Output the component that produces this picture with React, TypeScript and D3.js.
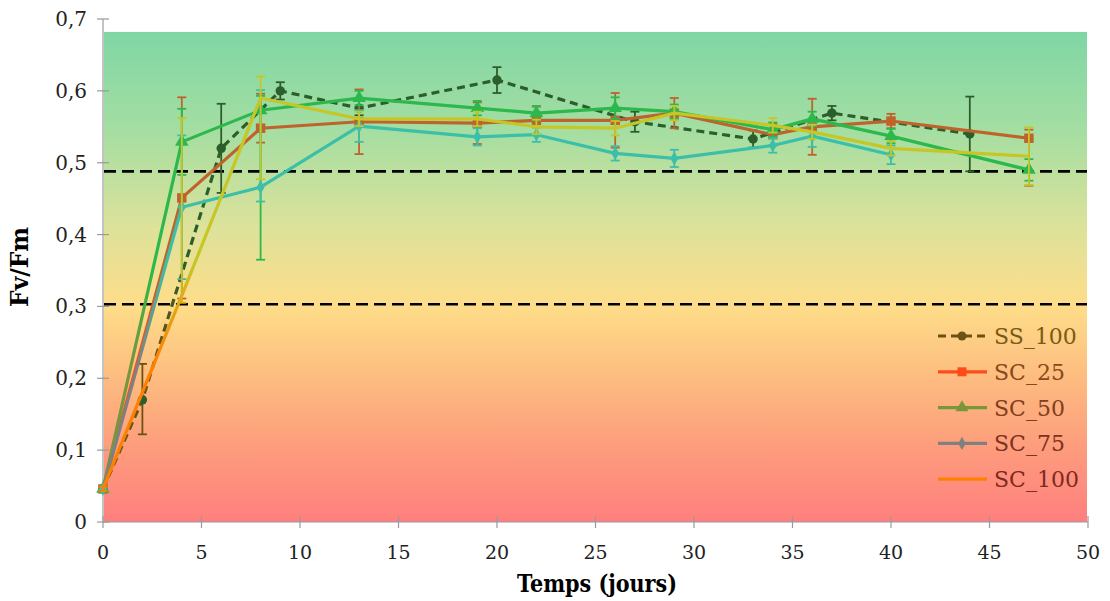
import React from "react";
import * as d3 from "d3";

// ---- data ----
const ssDays = [0, 2, 6, 9, 13, 20, 27, 33, 37, 44];
const ss100 = [0.046, 0.17, 0.52, 0.6, 0.576, 0.615, 0.557, 0.533, 0.569, 0.54];
const ss100Err: [number, number][] = [[0.003, 0.003], [0.048, 0.05], [0.062, 0.062], [0.012, 0.012], [0.01, 0.01], [0.018, 0.018], [0.014, 0.014], [0.012, 0.012], [0.01, 0.01], [0.052, 0.052]];

const scDays = [0, 4, 8, 13, 19, 22, 26, 29, 34, 36, 40, 47];
const sc25 = [0.046, 0.451, 0.548, 0.557, 0.555, 0.559, 0.559, 0.569, 0.539, 0.55, 0.558, 0.534];
const sc25Err: [number, number][] = [[0.003, 0.003], [0.14, 0.14], [0.02, 0.048], [0.045, 0.045], [0.029, 0.029], [0.019, 0.019], [0.038, 0.038], [0.021, 0.021], [0.015, 0.015], [0.039, 0.039], [0.01, 0.01], [0.066, 0.012]];
const sc50 = [0.046, 0.529, 0.573, 0.59, 0.576, 0.569, 0.576, 0.571, 0.546, 0.561, 0.537, 0.49];
const sc50Err: [number, number][] = [[0.003, 0.003], [0.046, 0.046], [0.208, 0.02], [0.01, 0.01], [0.01, 0.01], [0.01, 0.01], [0.015, 0.015], [0.01, 0.01], [0.01, 0.01], [0.01, 0.01], [0.01, 0.01], [0.015, 0.015]];
const sc75Days = [0, 4, 8, 13, 19, 22, 26, 29, 34, 36, 40];
const sc75 = [0.046, 0.438, 0.466, 0.551, 0.536, 0.539, 0.513, 0.506, 0.524, 0.537, 0.511];
const sc75Err: [number, number][] = [[0.003, 0.003], [0.1, 0.1], [0.02, 0.135], [0.022, 0.022], [0.012, 0.012], [0.01, 0.01], [0.01, 0.01], [0.012, 0.012], [0.01, 0.01], [0.015, 0.015], [0.013, 0.013]];
const sc100 = [0.046, 0.315, 0.59, 0.561, 0.561, 0.55, 0.548, 0.569, 0.552, 0.543, 0.52, 0.509];
const sc100Err: [number, number][] = [[0.003, 0.003], [0.01, 0.247], [0.113, 0.03], [0.01, 0.01], [0.01, 0.01], [0.01, 0.01], [0.01, 0.01], [0.01, 0.01], [0.01, 0.01], [0.01, 0.01], [0.01, 0.01], [0.04, 0.04]];

const seriesNames = ["SS_100", "SC_25", "SC_50", "SC_75", "SC_100"];
const xTicks = [0, 5, 10, 15, 20, 25, 30, 35, 40, 45, 50];
const yTicks = [0, 0.1, 0.2, 0.3, 0.4, 0.5, 0.6, 0.7];
const thresholds = [0.488, 0.303];

type S = { name: string; days: number[]; vals: number[]; err: [number, number][]; color: string; legendColor: string; textColor: string; marker: any; dashed: boolean };

const series: S[] = [
  { name: seriesNames[0], days: ssDays, vals: ss100, err: ss100Err, color: "#2b5e2b", legendColor: "#6b5214", textColor: "#7a5a14", marker: d3.symbolCircle, dashed: true },
  { name: seriesNames[1], days: scDays, vals: sc25, err: sc25Err, color: "#c0622c", legendColor: "#ff4a1a", textColor: "#8a4818", marker: d3.symbolSquare, dashed: false },
  { name: seriesNames[2], days: scDays, vals: sc50, err: sc50Err, color: "#2cb84c", legendColor: "#78963a", textColor: "#823e1a", marker: d3.symbolTriangle, dashed: false },
  { name: seriesNames[3], days: sc75Days, vals: sc75, err: sc75Err, color: "#3cbfa8", legendColor: "#808080", textColor: "#7e3220", marker: d3.symbolDiamond, dashed: false },
  { name: seriesNames[4], days: scDays, vals: sc100, err: sc100Err, color: "#c6c626", legendColor: "#ff7f00", textColor: "#7e2a20", marker: null, dashed: false },
];

const markerSize = [70, 90, 80, 55, 0];

export default function App() {
  const x = d3.scaleLinear().domain([0, 50]).range([103, 1088]);
  const y = d3.scaleLinear().domain([0, 0.7]).range([522, 19]);
  const bgTop = 0.682;
  const serif = "'DejaVu Serif', serif";

  return (
    <svg width={1110} height={601} style={{ position: "absolute", left: 0, top: 0, background: "#fff" }}>
      <defs>
        <linearGradient id="bg" x1="0" y1="0" x2="0" y2="1">
          <stop offset="0" stopColor="#7fd6a5" />
          <stop offset="0.2" stopColor="#a4dea2" />
          <stop offset="0.4" stopColor="#dde29a" />
          <stop offset="0.56" stopColor="#fedd89" />
          <stop offset="0.7" stopColor="#fdbd80" />
          <stop offset="0.85" stopColor="#fd9c7c" />
          <stop offset="1" stopColor="#ff7f7f" />
        </linearGradient>
        {series.map((s, i) => (
          <linearGradient key={i} id={`sg${i}`} gradientUnits="userSpaceOnUse" x1={0} x2={0} y1={y(0)} y2={y(0.7)}>
            <stop offset={0.22 / 0.7} stopColor={s.legendColor} />
            <stop offset={0.36 / 0.7} stopColor={s.color} />
          </linearGradient>
        ))}
      </defs>
      <rect x={x(0) + 1} y={y(bgTop)} width={x(50) - x(0) - 2} height={y(0) - y(bgTop)} fill="url(#bg)" />

      {/* axes */}
      <line x1={x(0)} x2={x(0)} y1={y(0.7)} y2={y(0)} stroke="#9a9a9a" strokeWidth={1.2} />
      <line x1={x(0)} x2={x(50)} y1={y(0)} y2={y(0)} stroke="#9a9a9a" strokeWidth={1.2} />
      {yTicks.map((t) => (
        <g key={t}>
          <line x1={x(0) - 6} x2={x(0) + 6} y1={y(t)} y2={y(t)} stroke="#9a9a9a" strokeWidth={1.2} />
          <text x={87} y={y(t) + 7} textAnchor="end" fontFamily={serif} fontSize={20} fill="#222">
            {String(Math.round(t * 10) / 10).replace(".", ",")}
          </text>
        </g>
      ))}
      {xTicks.map((t) => (
        <g key={t}>
          <line x1={x(t)} x2={x(t)} y1={y(0) - 6} y2={y(0) + 6} stroke="#9a9a9a" strokeWidth={1.2} />
          <text x={x(t)} y={559} textAnchor="middle" fontFamily={serif} fontSize={19} fill="#222">
            {t}
          </text>
        </g>
      ))}

      {/* thresholds */}
      {thresholds.map((t) => (
        <line key={t} x1={x(0) + 1} x2={x(50) - 1} y1={y(t)} y2={y(t)} stroke="#000" strokeWidth={2.6} strokeDasharray="12,6" />
      ))}

      {/* series */}
      {series.map((s, i) => {
        const pts = s.days.map((d, j) => [x(d), y(s.vals[j])] as [number, number]);
        const line = d3.line()(pts) || "";
        const paint = `url(#sg${i})`;
        const sym = s.marker ? d3.symbol().type(s.marker).size(markerSize[i])() || "" : "";
        return (
          <g key={s.name}>
            {s.days.map((d, j) => {
              const lo = y(s.vals[j] - s.err[j][0]);
              const hi = y(s.vals[j] + s.err[j][1]);
              const cx = x(d);
              return (
                <g key={j} stroke={paint} strokeWidth={1.8}>
                  <line x1={cx} x2={cx} y1={lo} y2={hi} />
                  <line x1={cx - 4.5} x2={cx + 4.5} y1={lo} y2={lo} />
                  <line x1={cx - 4.5} x2={cx + 4.5} y1={hi} y2={hi} />
                </g>
              );
            })}
            <path d={line} fill="none" stroke={paint} strokeWidth={3.2} strokeDasharray={s.dashed ? "8,5" : undefined} strokeLinejoin="round" />
            {s.marker &&
              pts.map((p, j) => <path key={j} d={sym} transform={`translate(${p[0]},${p[1]})`} fill={paint} />)}
          </g>
        );
      })}

      {/* legend */}
      {series.map((s, i) => {
        const ly = 336 + i * 35.8;
        const sym = s.marker ? d3.symbol().type(s.marker).size(markerSize[i] * 0.9)() || "" : "";
        return (
          <g key={s.name}>
            <line x1={938} x2={987} y1={ly} y2={ly} stroke={s.legendColor} strokeWidth={3.2} strokeDasharray={s.dashed ? "8,5" : undefined} />
            {s.marker && <path d={sym} transform={`translate(${962},${ly})`} fill={s.legendColor} />}
            <text x={994} y={ly + 8} fontFamily={serif} fontSize={22} fill={s.textColor}>
              {s.name}
            </text>
          </g>
        );
      })}

      {/* axis titles */}
      <text x={597} y={592} textAnchor="middle" fontFamily={serif} fontWeight="bold" fontSize={24} textLength={160} lengthAdjust="spacingAndGlyphs" fill="#000">
        Temps (jours)
      </text>
      <text transform={`translate(${28},${y(0.355)}) rotate(-90)`} textAnchor="middle" fontFamily={serif} fontWeight="bold" fontSize={25} textLength={80} lengthAdjust="spacingAndGlyphs" fill="#000">
        Fv/Fm
      </text>
    </svg>
  );
}
